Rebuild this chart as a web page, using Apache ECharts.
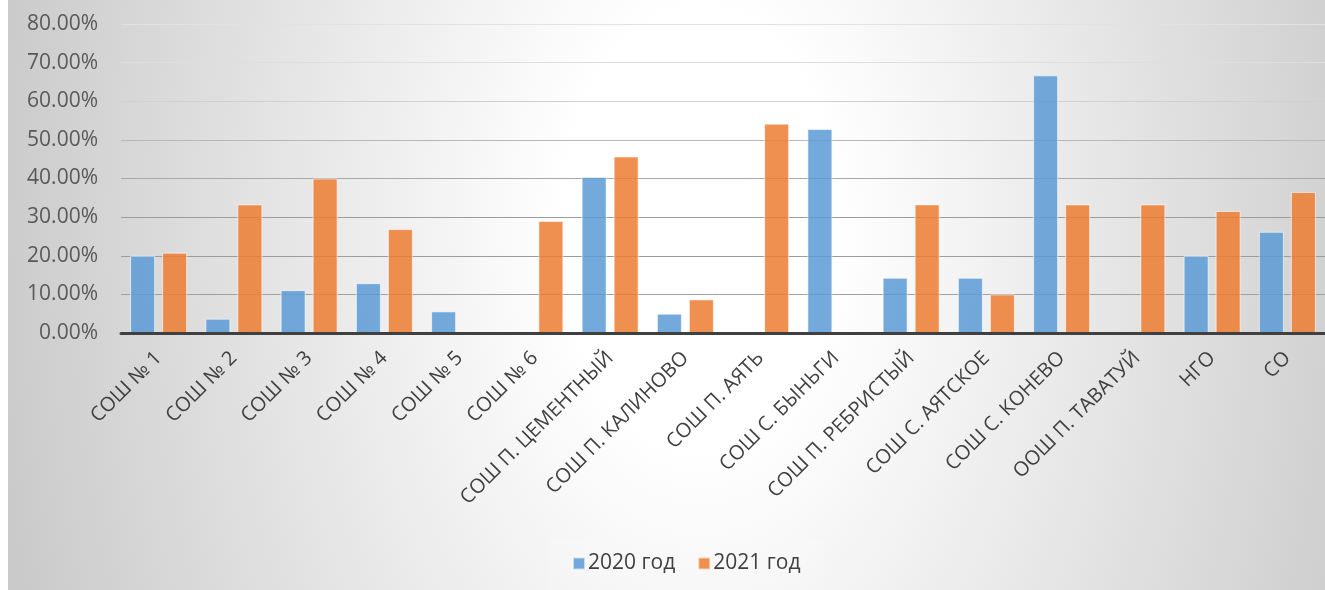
<!DOCTYPE html>
<html>
<head>
<meta charset="utf-8">
<script src="https://cdn.jsdelivr.net/npm/echarts@6/dist/echarts.min.js"></script>
<style>
html,body{margin:0;padding:0;background:#fff;}
#chart{width:1325px;height:590px;}
</style>
</head>
<body>
<div id="chart"></div>
<script>
const categories = ['СОШ № 1','СОШ № 2','СОШ № 3','СОШ № 4','СОШ № 5','СОШ № 6','СОШ П. ЦЕМЕНТНЫЙ','СОШ П. КАЛИНОВО','СОШ П. АЯТЬ','СОШ С. БЫНЬГИ','СОШ П. РЕБРИСТЫЙ','СОШ С. АЯТСКОЕ','СОШ С. КОНЕВО','ООШ П. ТАВАТУЙ','НГО','СО'];
const series2020 = [20.0, 3.7, 11.1, 12.9, 5.6, 0, 40.4, 5.0, 0, 52.8, 14.3, 14.3, 66.7, 0, 20.0, 26.2];
const series2021 = [20.8, 33.3, 40.0, 26.9, 0, 29.0, 45.7, 8.7, 54.2, 0, 33.3, 10.0, 33.3, 33.3, 31.6, 36.5];
const seriesNames = ['2020 год', '2021 год'];
const yTicks = [0, 10, 20, 30, 40, 50, 60, 70, 80];

const FONT = 'Open Sans';
const chart = echarts.init(document.getElementById('chart'), null, {renderer: 'canvas'});
const sy = 1.6;
chart.setOption({
  backgroundColor: 'transparent',
  animation: false,
  graphic: [
    {
      type: 'rect', z: -100, silent: true,
      scaleY: sy,
      shape: {x: 0, y: 0, width: 1325, height: 590 / sy},
      style: {
        fill: {
          type: 'radial', global: true,
          x: 700, y: 230 / sy, r: 760,
          colorStops: [
            {offset: 0, color: '#ffffff'},
            {offset: 0.18, color: '#ffffff'},
            {offset: 1, color: '#c6c6c6'}
          ]
        }
      }
    },
    {
      type: 'rect', z: -99, silent: true,
      shape: {x: 0, y: 0, width: 8, height: 590},
      style: {fill: '#ffffff'}
    }
  ],
  grid: {left: 121, top: 24, width: 1210, height: 309, containLabel: false},
  legend: {
    data: seriesNames,
    left: 547, top: 540,
    padding: [13, 25, 20, 25],
    backgroundColor: 'rgba(255,255,255,0.12)',
    itemWidth: 12, itemHeight: 12, itemGap: 22,
    icon: 'rect',
    textStyle: {fontFamily: FONT, fontSize: 21, color: '#404040', padding: [0, 0, 0, -2]}
  },
  xAxis: {
    type: 'category',
    data: categories,
    z: 5,
    axisLine: {show: true, lineStyle: {color: '#404040', width: 3}},
    axisTick: {show: false},
    axisLabel: {
      interval: 0, rotate: 45, margin: 22,
      fontFamily: FONT, fontSize: 20, color: '#404040'
    },
    splitLine: {show: false}
  },
  yAxis: {
    type: 'value',
    min: yTicks[0], max: yTicks[yTicks.length - 1], interval: 10,
    axisLine: {show: false},
    axisTick: {show: false},
    axisLabel: {
      margin: 23, fontFamily: FONT, fontSize: 21, color: '#595959',
      formatter: v => v.toFixed(2) + '%'
    },
    splitLine: {
      show: true,
      lineStyle: {
        width: 1,
        color: ['#999999', '#a0a0a0', '#9c9c9c', '#9c9c9c', '#a8a8a8', '#b8b8b8', '#d0d0d0', '#dedede', '#e2e2e2']
      }
    }
  },
  series: [
    {
      name: seriesNames[0], type: 'bar', data: series2020,
      barWidth: 25, barGap: '28%',
      itemStyle: {color: '#5B9BD5', opacity: 0.85, borderColor: 'rgba(255,255,255,0.7)', borderWidth: 1}
    },
    {
      name: seriesNames[1], type: 'bar', data: series2021,
      barWidth: 25, barGap: '28%',
      itemStyle: {color: '#ED7D31', opacity: 0.85, borderColor: 'rgba(255,255,255,0.7)', borderWidth: 1}
    }
  ]
});
</script>
</body>
</html>
